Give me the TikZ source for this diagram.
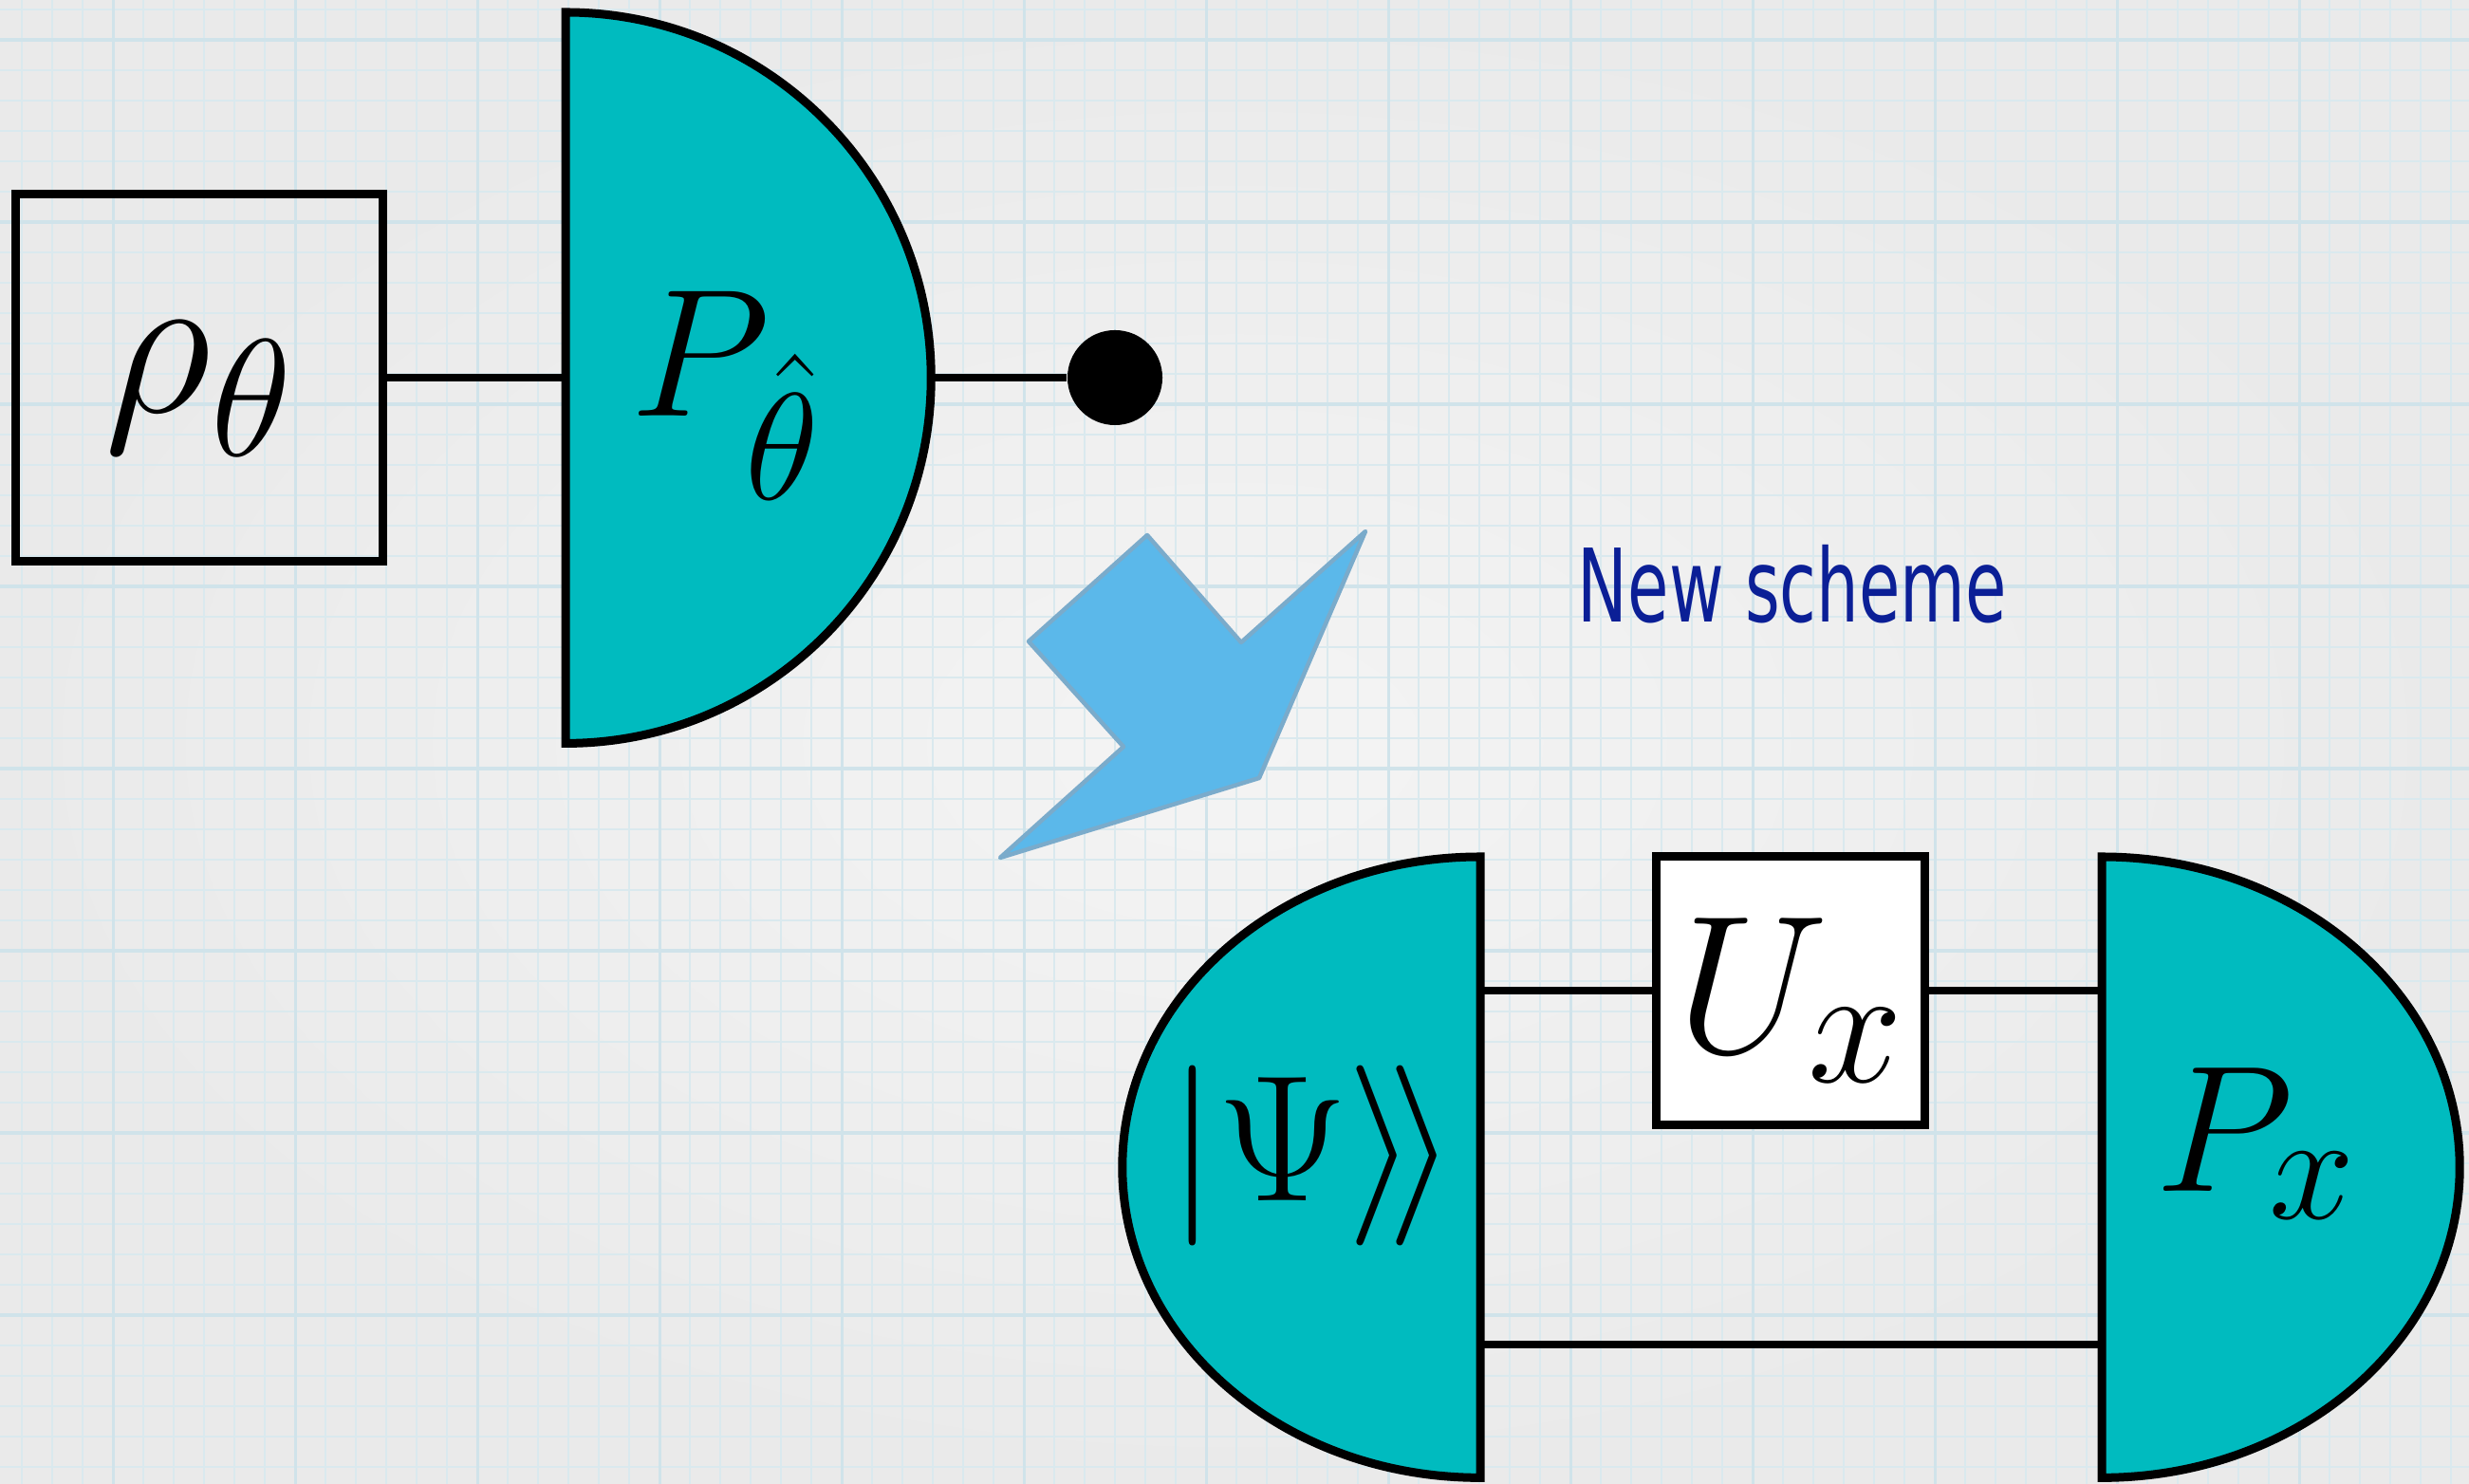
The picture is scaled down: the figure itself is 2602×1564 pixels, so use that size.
\RequirePackage{fix-cm}
\documentclass[tikz,border=0pt]{standalone}
\usepackage[no-math]{fontspec}
\newfontfamily\schemefont[FakeStretch=0.66]{DejaVu Sans}
\usepackage{tikz}
\usetikzlibrary{positioning,calc}
\definecolor{paper}{HTML}{F4F4F4}
\definecolor{paperedge}{HTML}{EAEAEA}
\definecolor{gridlo}{HTML}{DAE9EE}
\definecolor{gridhi}{HTML}{D0E3EA}
\definecolor{detect}{HTML}{00BBBF}
\definecolor{flow}{HTML}{5BB8EA}
\definecolor{flowedge}{HTML}{7AABCB}
\definecolor{note}{HTML}{0B1F96}
\tikzset{
  minor/.style   ={draw=gridlo, line width=0.022cm},
  major/.style   ={draw=gridhi, line width=0.036cm},
  wire/.style    ={draw=black, line width=0.08cm},
  gate/.style    ={rectangle, draw=black, line width=0.09cm, minimum size=3.86cm,
                   inner sep=0pt},
  detector/.style={draw=black, fill=detect, line width=0.09cm},
  dot/.style     ={circle, fill=black, minimum size=1cm, inner sep=0pt},
  flowarrow/.style={draw=flowedge, fill=flow, line width=0.045cm, line join=round},
  note/.style    ={text=note, font=\schemefont\fontsize{30.4}{36}\selectfont, inner sep=0pt},
}
% subscript set at a size of its own
\newcommand{\subbox}[2]{\hbox{\fontsize{#1}{#1}\selectfont$#2$}}
% lower a label inside its box, keeping the box size
\newcommand{\lowered}[2]{\raisebox{-#1}[\height][\depth]{#2}}

\begin{document}
\begin{tikzpicture}[x=0.01cm,y=0.01cm]
\useasboundingbox (0,0) rectangle (2602,1564);
% graph paper
\shade[inner color=paper, outer color=paperedge] (0,0) rectangle (2602,1564);
\foreach \k in {0,...,80} \draw[minor] ({23.3+32*\k},0) -- ++(0,1564);
\foreach \k in {0,...,48} \draw[minor] (0,{1554-32*\k}) -- ++(2602,0);
\foreach \k in {3,9,...,75} \draw[major] ({23.3+32*\k},0) -- ++(0,1564);
\foreach \k in {1,7,...,43} \draw[major] (0,{1554-32*\k}) -- ++(2602,0);
% old scheme
\node[gate, font=\fontsize{63}{70}\selectfont] (rho) at (210,1166)
  {\lowered{0.12cm}{$\rho_{\subbox{50}{\theta}}$}};
\coordinate (pin)  at (596,1166);
\coordinate (pout) at (981,1166);
\node[dot] (out) at (1175,1166) {};
\draw[wire] (rho.east) -- (pin);
\draw[wire] (pout) -- (out);
\draw[detector] (596,1551) arc[start angle=90, end angle=-90, radius=3.85cm] -- cycle;
\node[font=\fontsize{54.6}{60}\selectfont] (ptheta) at (765,1147) {$P_{\subbox{45.6}{\hat\theta}}$};
% turn arrow
\draw[flowarrow] (1209,1000) -- (1308,887) -- (1439,1004) -- (1327,744)
  -- (1054,660) -- (1184,777) -- (1084,888) -- cycle;
\node[note] (scheme) at (1889,948) {New scheme};
% new scheme
\coordinate (psiup)  at (1560,520);
\coordinate (psilow) at (1560,147);
\coordinate (pxup)   at (2215,520);
\coordinate (pxlow)  at (2215,147);
\node[gate, fill=white, minimum size=2.82cm, font=\fontsize{59}{65}\selectfont]
  (ux) at (1887,520) {\lowered{0.1cm}{$U_{\subbox{51}{x}}$}};
\draw[wire] (psiup) -- (ux.west);
\draw[wire] (ux.east) -- (pxup);
\draw[wire] (psilow) -- (pxlow);
\draw[detector] (1560,661) arc[start angle=90, end angle=270, x radius=3.77cm, y radius=3.27cm] -- cycle;
\draw[detector] (2215,661) arc[start angle=90, end angle=-90, x radius=3.77cm, y radius=3.27cm] -- cycle;
\node[font=\fontsize{54}{60}\selectfont] (psi) at (1383,346) {$|\Psi\rangle\!\rangle$};
\node[font=\fontsize{54}{60}\selectfont] (px) at (2377,359) {$P_{\subbox{46}{x}}$};
\end{tikzpicture}
\end{document}
